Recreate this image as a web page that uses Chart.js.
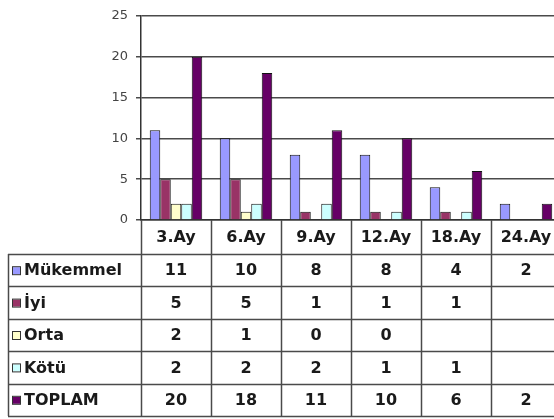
<!DOCTYPE html>
<html>
<head>
<meta charset="utf-8">
<script src="https://cdn.jsdelivr.net/npm/chart.js@4.4.0/dist/chart.umd.min.js"></script>
<style>
  html, body { margin: 0; padding: 0; background: #fff; overflow: hidden; }
  #wrap { width: 554px; height: 419px; overflow: hidden; }
</style>
</head>
<body>
<div id="wrap"><canvas id="chart" width="561" height="419"></canvas></div>
<script>
// --- data ---
const categories = ['3.Ay', '6.Ay', '9.Ay', '12.Ay', '18.Ay', '24.Ay'];
const seriesNames = ['Mükemmel', 'İyi', 'Orta', 'Kötü', 'TOPLAM'];
const mukemmel = [11, 10, 8, 8, 4, 2];
const iyi = [5, 5, 1, 1, 1, null];
const orta = [2, 1, 0, 0, null, null];
const kotu = [2, 2, 2, 1, 1, null];
const toplam = [20, 18, 11, 10, 6, 2];
const yTicks = [0, 5, 10, 15, 20, 25];

const seriesValues = [mukemmel, iyi, orta, kotu, toplam];
const seriesColors = ['#9999ff', '#993366', '#ffffcc', '#ccffff', '#660066'];

const lineColor = '#4a4a4a';
const textColor = '#1a1a1a';

// Data table drawn under the plot, columns follow the x scale
// (canvas is a few px wider than the page so the right edge gets cut like the original)
const dataTablePlugin = {
    id: 'dataTable',
    afterDraw(chart) {
        const { ctx, chartArea, scales: { x } } = chart;
        const colW = (chartArea.right - chartArea.left) / categories.length;
        const top = chartArea.bottom;
        const headerH = 34;
        const rowH = 32.4;
        const tableLeft = 8;
        const bodyTop = top + headerH;
        const bottom = bodyTop + rowH * seriesNames.length;

        ctx.save();
        ctx.strokeStyle = lineColor;
        ctx.lineWidth = 1.5;

        // vertical lines at category boundaries
        for (let i = 0; i <= categories.length; i++) {
            const px = Math.round(chartArea.left + i * colW) + 0.5;
            ctx.beginPath();
            ctx.moveTo(px, top);
            ctx.lineTo(px, bottom);
            ctx.stroke();
        }
        // left border of the name column
        ctx.beginPath();
        ctx.moveTo(tableLeft + 0.5, bodyTop);
        ctx.lineTo(tableLeft + 0.5, bottom);
        ctx.stroke();

        // horizontal row lines
        for (let r = 0; r <= seriesNames.length; r++) {
            const py = Math.round(bodyTop + r * rowH) + 0.5;
            ctx.beginPath();
            ctx.moveTo(tableLeft, py);
            ctx.lineTo(chartArea.right + 2, py);
            ctx.stroke();
        }

        ctx.fillStyle = textColor;
        ctx.font = 'bold 16px "DejaVu Sans", Arial, sans-serif';
        ctx.textBaseline = 'middle';
        ctx.textAlign = 'center';

        // header: category labels
        categories.forEach((c, i) => {
            ctx.fillText(c, x.getPixelForValue(i), top + headerH / 2 + 1);
        });

        // rows
        seriesNames.forEach((name, r) => {
            const cy = bodyTop + r * rowH + rowH / 2 + 1;
            // legend key
            ctx.fillStyle = seriesColors[r];
            ctx.fillRect(13, cy - 4, 7, 7);
            ctx.strokeStyle = '#333';
            ctx.lineWidth = 1;
            ctx.strokeRect(12.5, cy - 4.5, 8, 8);

            ctx.fillStyle = textColor;
            ctx.textAlign = 'left';
            ctx.fillText(name, 24, cy);

            ctx.textAlign = 'center';
            seriesValues[r].forEach((v, i) => {
                if (v === null) return;
                ctx.fillText(String(v), x.getPixelForValue(i), cy);
            });
        });
        ctx.restore();
    }
};

const ctx = document.getElementById('chart').getContext('2d');
new Chart(ctx, {
    type: 'bar',
    data: {
        labels: categories,
        datasets: seriesNames.map((name, i) => ({
            label: name,
            data: seriesValues[i],
            backgroundColor: seriesColors[i],
            borderColor: '#111',
            borderWidth: 1,
            categoryPercentage: 0.75,
            barPercentage: 1.0
        }))
    },
    options: {
        responsive: false,
        animation: false,
        layout: { padding: { top: 13, right: 0, bottom: 0, left: 0 } },
        scales: {
            x: {
                grid: { display: false },
                border: { display: true, color: '#333', width: 1.5 },
                ticks: { display: false },
                afterFit(scale) { scale.height = 199; }
            },
            y: {
                min: 0,
                max: 25,
                afterBuildTicks(scale) { scale.ticks = yTicks.map(v => ({ value: v })); },
                grid: { color: lineColor, lineWidth: 1.5, tickLength: 5 },
                border: { display: true, color: '#333', width: 1.5 },
                ticks: {
                    color: '#444',
                    padding: 8,
                    font: { family: '"DejaVu Sans", Arial, sans-serif', size: 13 }
                },
                afterFit(scale) { scale.width = 141; }
            }
        },
        plugins: {
            legend: { display: false },
            tooltip: { enabled: false }
        }
    },
    plugins: [dataTablePlugin]
});
</script>
</body>
</html>
